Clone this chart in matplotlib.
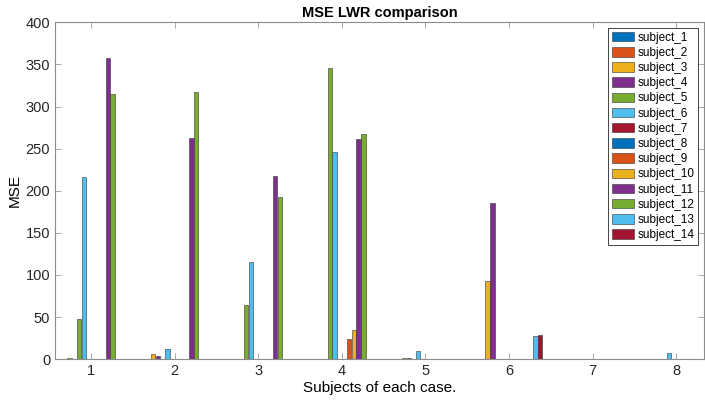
import matplotlib.pyplot as plt
import numpy as np

plt.rcParams['font.family'] = ['Liberation Sans', 'DejaVu Sans']

# data
cases = [1, 2, 3, 4, 5, 6, 7, 8]
subject_names = ['subject_%d' % i for i in range(1, 15)]
s1 = [0, 0, 0, 0, 0, 0, 0, 0]
s2 = [0, 0, 0, 0, 0, 0, 0, 0]
s3 = [1, 6.7, 0, 0, 1, 93, 0.5, 0]
s4 = [0.5, 3.6, 0, 0, 1, 185, 0.5, 0]
s5 = [48, 0, 64.5, 345.6, 0, 0, 0, 0]
s6 = [216, 11.9, 115.4, 246, 9.5, 0, 0.5, 7.1]
s7 = [0, 0, 0, 0, 0, 0, 0.5, 0]
s8 = [0, 0, 0, 0, 0, 0, 0, 0]
s9 = [0, 0, 0, 23.8, 0, 0, 0, 0]
s10 = [0, 0, 0, 34.8, 0, 0, 0, 0]
s11 = [357.5, 263, 217, 261, 0, 0, 0, 0]
s12 = [315, 317.8, 192.4, 267, 0, 0, 0, 0]
s13 = [0, 0, 0, 0, 0, 27.7, 0, 0]
s14 = [0, 0, 0, 0, 0, 28.9, 0.5, 0]
series = [s1, s2, s3, s4, s5, s6, s7, s8, s9, s10, s11, s12, s13, s14]

colors = ['#0072BD', '#D95319', '#EDB120', '#7E2F8E', '#77AC30', '#4DBEEE', '#A2142F']

fig = plt.figure(figsize=(7.05, 4.05), dpi=100)
ax = fig.add_axes([0.078, 0.113, 0.921, 0.832])

n = len(series)
group_w = 0.8
step = group_w / n
x = np.array(cases, dtype=float)
for i, vals in enumerate(series):
    off = -group_w / 2 + (i + 0.5) * step
    ax.bar(x + off, vals, width=step * 0.92, color=colors[i % 7],
           edgecolor='#333333', linewidth=0.4, label=subject_names[i])

ax.set_xlim(0.569, 8.335)
ax.set_ylim(0, 400)
ax.set_xticks(cases)
ax.set_yticks(np.arange(0, 401, 50))
ax.tick_params(direction='in', top=True, right=True, labelsize=10.5,
               color='#9a9a9a', labelcolor='#262626', length=4, width=0.6)
for sp in ax.spines.values():
    sp.set_color('#8c8c8c')
    sp.set_linewidth(0.8)

ax.set_title('MSE LWR comparison', fontsize=10.5, fontweight='bold', pad=4)
ax.set_xlabel('Subjects of each case.', fontsize=11, labelpad=2)
ax.set_ylabel('MSE', fontsize=11, labelpad=3)

leg = ax.legend(loc='upper right', fontsize=8.5, handlelength=1.9, handleheight=0.85,
                handletextpad=0.3, labelspacing=0.27, borderpad=0.3,
                borderaxespad=0.5, fancybox=False, framealpha=1)
leg.get_frame().set_edgecolor('#262626')
leg.get_frame().set_linewidth(0.6)

fig.savefig('out.png', dpi=100)
